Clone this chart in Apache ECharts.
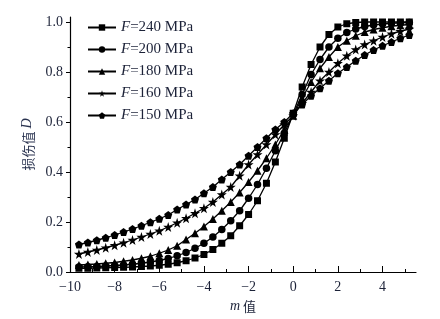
<!DOCTYPE html>
<html>
<head>
<meta charset="utf-8">
<script src="https://cdn.jsdelivr.net/npm/echarts@6/dist/echarts.min.js"></script>
<style>
html,body{margin:0;padding:0;background:#fff;}
#chart{width:440px;height:319px;}
</style>
</head>
<body>
<div id="chart"></div>
<script>
// m 值
var mValues = [-9.6,-9.2,-8.8,-8.4,-8.0,-7.6,-7.2,-6.8,-6.4,-6.0,-5.6,-5.2,-4.8,-4.4,-4.0,-3.6,-3.2,-2.8,-2.4,-2.0,-1.6,-1.2,-0.8,-0.4,
               0.0,0.4,0.8,1.2,1.6,2.0,2.4,2.8,3.2,3.6,4.0,4.4,4.8,5.2];
// 损伤值 D
var d240 = [0.015,0.015,0.016,0.017,0.018,0.019,0.020,0.022,0.024,0.027,0.031,0.037,0.045,0.056,0.070,0.090,0.115,0.145,0.185,0.230,0.285,0.355,0.440,0.535,
            0.635,0.740,0.830,0.900,0.950,0.980,0.993,0.998,1.0,1.0,1.0,1.0,1.0,1.0];
var d200 = [0.020,0.021,0.022,0.024,0.026,0.028,0.031,0.035,0.040,0.046,0.054,0.065,0.078,0.095,0.115,0.140,0.170,0.205,0.245,0.295,0.350,0.415,0.485,0.555,
            0.630,0.710,0.790,0.850,0.900,0.935,0.958,0.972,0.982,0.988,0.992,0.995,0.997,0.998];
var d180 = [0.028,0.030,0.032,0.035,0.038,0.043,0.048,0.055,0.063,0.075,0.088,0.105,0.130,0.155,0.182,0.212,0.245,0.280,0.318,0.360,0.405,0.455,0.510,0.570,
            0.625,0.695,0.760,0.815,0.860,0.900,0.925,0.945,0.960,0.970,0.977,0.983,0.987,0.990];
var d160 = [0.072,0.080,0.088,0.097,0.107,0.117,0.128,0.140,0.152,0.165,0.180,0.197,0.215,0.235,0.255,0.280,0.310,0.340,0.385,0.430,0.470,0.510,0.550,0.590,
            0.625,0.675,0.720,0.765,0.800,0.835,0.865,0.890,0.910,0.925,0.940,0.953,0.963,0.972];
var d150 = [0.110,0.118,0.127,0.137,0.148,0.160,0.172,0.185,0.199,0.213,0.228,0.250,0.270,0.290,0.315,0.340,0.370,0.400,0.430,0.465,0.500,0.535,0.570,0.600,
            0.635,0.670,0.705,0.735,0.765,0.795,0.820,0.845,0.868,0.888,0.905,0.920,0.935,0.948];

var seriesNames = ['F=240 MPa','F=200 MPa','F=180 MPa','F=160 MPa','F=150 MPa'];
var xMajor = [-10,-8,-6,-4,-2,0,2,4];
var xMinor = [-9,-7,-5,-3,-1,1,3,5];
var yMajor = [0,0.2,0.4,0.6,0.8,1.0];
var yMinor = [0.1,0.3,0.5,0.7,0.9];

var starPath = 'path://M50,0 L61,35 L98,35 L68,57 L79,91 L50,70 L21,91 L32,57 L2,35 L39,35 Z';
var pentPath = 'path://M50,0 L98,36 L80,94 L20,94 L2,36 Z';
var symbols = ['rect','circle','triangle',starPath,pentPath];
var symSizes = [7,7.5,8,10,8];
var allData = [d240,d200,d180,d160,d150];

var serif = '"Liberation Serif","Times New Roman",serif';
var cjk = '"Noto Sans CJK SC",sans-serif';
var txtColor = '#1c2238';

function pairs(ys){
	var out = [];
	for(var i = 0; i < mValues.length; i++){
		out.push([mValues[i], ys[i]]);
	}
	return out;
}

var chart = echarts.init(document.getElementById('chart'));

var series = [];
for(var k = 0; k < seriesNames.length; k++){
	series.push({
		name: seriesNames[k],
		type: 'line',
		data: pairs(allData[k]),
		symbol: symbols[k],
		symbolSize: symSizes[k],
		showAllSymbol: true,
		clip: false,
		lineStyle: {color:'#000', width:1.3},
		itemStyle: {color:'#000', borderWidth:0},
		animation: false
	});
}

function minusFmt(v){
	return String(v).replace('-', '\u2212');
}

var option = {
	backgroundColor: '#fff',
	animation: false,
	grid: {left:70, right:24, top:17, bottom:47},
	legend: {
		orient: 'vertical',
		left: 82,
		top: 15,
		itemWidth: 28,
		itemHeight: 8,
		itemGap: 7,
		data: seriesNames,
		formatter: function(name){
			return '{i|F}{n|' + name.slice(1) + '}';
		},
		textStyle: {
			color: txtColor,
			lineHeight: 15,
			rich: {
				i: {fontFamily: serif, fontStyle:'italic', fontSize:15, color: txtColor},
				n: {fontFamily: serif, fontSize:15, color: txtColor}
			}
		}
	},
	xAxis: [{
		type: 'value',
		min: -10, max: 5.5,
		name: '{i|m}{c| 值}',
		nameLocation: 'middle',
		nameGap: 25,
		nameTextStyle: {
			rich: {
				i: {fontFamily: serif, fontStyle:'italic', fontSize:14, color: txtColor},
				c: {fontFamily: cjk, fontSize:13, color: txtColor}
			}
		},
		axisLine: {onZero:false, lineStyle:{color:'#000', width:1.2}},
		axisTick: {inside:true, length:6, customValues: xMajor, lineStyle:{color:'#000', width:1}},
		axisLabel: {customValues: xMajor, formatter: minusFmt, margin: 8, fontFamily: serif, fontSize: 14, color: txtColor},
		splitLine: {show:false}
	},{
		type: 'value',
		min: -10, max: 5.5,
		position: 'bottom',
		axisLine: {show:false, onZero:false},
		axisTick: {inside:true, length:3, customValues: xMinor, lineStyle:{color:'#000', width:1}},
		axisLabel: {show:false},
		splitLine: {show:false}
	}],
	yAxis: [{
		type: 'value',
		min: 0, max: 1.02,
		name: '{c|损伤值 }{i|D}',
		nameLocation: 'middle',
		nameGap: 32,
		nameRotate: 90,
		nameTextStyle: {
			rich: {
				i: {fontFamily: serif, fontStyle:'italic', fontSize:14, color: '#2a3350'},
				c: {fontFamily: cjk, fontSize:13, color: '#2a3350'}
			}
		},
		axisLine: {show:true, onZero:false, lineStyle:{color:'#000', width:1.2}},
		axisTick: {show:true, inside:false, length:4, customValues: yMajor, lineStyle:{color:'#000', width:1}},
		axisLabel: {customValues: yMajor, formatter: function(v){ return v.toFixed(1); }, margin: 7, fontFamily: serif, fontSize: 14, color: txtColor},
		splitLine: {show:false}
	},{
		type: 'value',
		min: 0, max: 1.02,
		position: 'left',
		axisLine: {show:false, onZero:false},
		axisTick: {show:true, inside:false, length:2.5, customValues: yMinor, lineStyle:{color:'#000', width:1}},
		axisLabel: {show:false},
		splitLine: {show:false}
	}],
	series: series
};
chart.setOption(option);
</script>
</body>
</html>
